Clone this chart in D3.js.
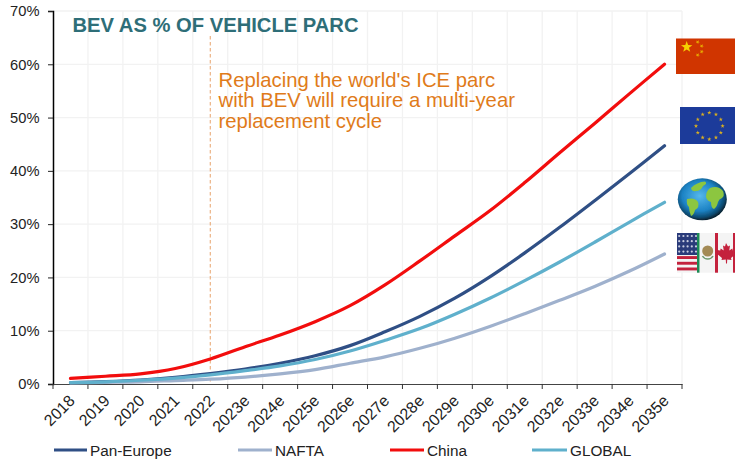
<!DOCTYPE html>
<html><head><meta charset="utf-8">
<script src="https://cdn.jsdelivr.net/npm/d3@7"></script>
<style>html,body{margin:0;padding:0;background:#fff}svg{display:block}text{font-family:"Liberation Sans",Arial,sans-serif}</style>
</head><body><div id="c"></div>
<script>
const years=["2018","2019","2020","2021","2022","2023e","2024e","2025e","2026e","2027e","2028e","2029e","2030e","2031e","2032e","2033e","2034e","2035e"];
const panEurope=[0.25,0.45,0.75,1.25,1.95,2.8,3.9,5.3,7.2,9.8,12.7,16.1,20.1,24.6,29.4,34.4,39.5,44.7];
const nafta=[0.2,0.3,0.4,0.65,0.9,1.3,1.9,2.7,3.9,5.1,6.7,8.6,10.8,13.2,15.7,18.3,21.2,24.4];
const china=[1.05,1.45,1.9,2.9,4.7,7.0,9.2,11.7,14.7,18.6,23.1,27.8,32.5,37.8,43.4,48.9,54.5,60.0];
const globalBev=[0.25,0.4,0.7,1.1,1.7,2.5,3.4,4.6,6.2,8.2,10.4,13.1,16.1,19.4,22.9,26.6,30.4,34.1];
const yTicks=[0,10,20,30,40,50,60,70];
const legendNames=["Pan-Europe","NAFTA","China","GLOBAL"];
const titleText="BEV AS % OF VEHICLE PARC";
const noteLines=["Replacing the world's ICE parc","with BEV will require a multi-year","replacement cycle"];
const markerYear="2022";

const W=735,H=459;
const svg=d3.select("#c").append("svg").attr("width",W).attr("height",H);
const x=d3.scaleBand().domain(years).range([53,682]);
const y=d3.scaleLinear().domain([0,70]).range([384,11]);
const cx=d=>x(d)+x.bandwidth()/2;
const tickXs=years.map(d=>x(d)).concat([682]);

// gridlines
svg.append("g").selectAll("line").data(yTicks.slice(1)).join("line")
 .attr("x1",53).attr("x2",682).attr("y1",d=>y(d)).attr("y2",d=>y(d)).attr("stroke","#f2f2f2").attr("stroke-width",1.3);
svg.append("g").selectAll("line").data(tickXs.slice(1)).join("line")
 .attr("x1",d=>d).attr("x2",d=>d).attr("y1",11).attr("y2",384).attr("stroke","#f2f2f2").attr("stroke-width",1.3);

// marker
svg.append("line").attr("x1",cx(markerYear)).attr("x2",cx(markerYear)).attr("y1",36).attr("y2",384)
 .attr("stroke","#e8a36b").attr("stroke-width",1).attr("stroke-dasharray","3.5,2.5");

// axes
const yAxis=d3.axisLeft(y).tickValues(yTicks).tickFormat(d=>d+"%").tickSize(5).tickPadding(8.5);
const gy=svg.append("g").attr("transform","translate(53,0)").call(yAxis);
gy.select(".domain").attr("stroke","#000").attr("stroke-width",1.5);
gy.selectAll(".tick line").attr("stroke","#222");
gy.selectAll("text").attr("font-size",14.7).attr("fill","#222");
const gx=svg.append("g").attr("transform","translate(0,384)").call(d3.axisBottom(x).tickValues([]).tickSize(0));
gx.select(".domain").attr("stroke","#444").attr("stroke-width",1.2);
svg.append("g").selectAll("line").data(tickXs).join("line")
 .attr("x1",d=>d).attr("x2",d=>d).attr("y1",384).attr("y2",389).attr("stroke","#333");
svg.append("g").selectAll("text").data(years).join("text")
 .attr("transform",d=>`translate(${cx(d)-1.5},${395}) rotate(-45)`)
 .attr("text-anchor","end").attr("dy","0.6em").attr("font-size",16).attr("fill","#222").text(d=>d);

// lines
const line=d3.line().x((d,i)=>cx(years[i])).y(d=>y(d)).curve(d3.curveCatmullRom.alpha(0.5));
const series=[
 {n:"Pan-Europe",v:panEurope,c:"#2f4f85"},
 {n:"NAFTA",v:nafta,c:"#9fb1cd"},
 {n:"China",v:china,c:"#f20d0d"},
 {n:"GLOBAL",v:globalBev,c:"#5fb0cc"}];
svg.append("g").selectAll("path").data(series).join("path")
 .attr("d",d=>line(d.v)).attr("fill","none").attr("stroke",d=>d.c).attr("stroke-width",3.2).attr("stroke-linecap","round");

// title, note
svg.append("text").attr("x",72.5).attr("y",31.5).attr("font-size",20.2).attr("font-weight","bold").attr("fill","#2e6e78").text(titleText);
svg.append("text").attr("font-size",20.3).attr("fill","#e07b1a").selectAll("tspan").data(noteLines).join("tspan")
 .attr("x",218.5).attr("y",(d,i)=>87+i*20.3).text(d=>d);

// legend
const legX={"Pan-Europe":[54,87],"NAFTA":[238,272],"China":[390,424],"GLOBAL":[532,567]};
const colorOf=Object.fromEntries(series.map(s=>[s.n,s.c]));
const lg=svg.append("g").selectAll("g").data(legendNames).join("g");
lg.append("line").attr("x1",d=>legX[d][0]).attr("x2",d=>legX[d][1]).attr("y1",450).attr("y2",450)
 .attr("stroke",d=>colorOf[d]).attr("stroke-width",3);
lg.append("text").attr("x",d=>legX[d][1]+3).attr("y",455.5).attr("font-size",15.3).attr("fill","#222").text(d=>d);

// flags
const defs=svg.append("defs");
defs.append("filter").attr("id","soft").append("feGaussianBlur").attr("stdDeviation",0.55);
const rg=defs.append("radialGradient").attr("id","sea").attr("cx","45%").attr("cy","42%").attr("r","58%");
rg.append("stop").attr("offset","0%").attr("stop-color","#55b8ec");
rg.append("stop").attr("offset","62%").attr("stop-color","#1c82c4");
rg.append("stop").attr("offset","88%").attr("stop-color","#0c4a70");
rg.append("stop").attr("offset","100%").attr("stop-color","#06202f");
const star=(cx,cy,r,rot)=>{const p=[];for(let i=0;i<10;i++){const a=-Math.PI/2+rot+i*Math.PI/5,q=i%2?r*0.4:r;p.push([cx+q*Math.cos(a),cy+q*Math.sin(a)].join(","));}return p.join(" ");};
const flags=svg.append("g").attr("filter","url(#soft)");
// China
const cn=flags.append("g");
cn.append("rect").attr("x",676).attr("y",38.5).attr("width",60).attr("height",35.5).attr("fill","#d03400");
cn.append("polygon").attr("points",star(686.7,47,6,0)).attr("fill","#f5d000");
[[697.7,42],[701.7,46],[701.7,51.7],[697.7,55]].forEach(p=>cn.append("polygon").attr("points",star(p[0],p[1],2.2,0.4)).attr("fill","#e8b000"));
// EU
const eu=flags.append("g");
eu.append("rect").attr("x",680).attr("y",107).attr("width",56).attr("height",37).attr("fill","#1f3a9a");
d3.range(12).forEach(i=>{const a=i*Math.PI/6;eu.append("polygon").attr("points",star(709.3+13.3*Math.sin(a),126-13.3*Math.cos(a),2.2,0)).attr("fill","#d8b020");});
// Globe
const gb=flags.append("g");
gb.append("ellipse").attr("cx",702.3).attr("cy",199.3).attr("rx",24.5).attr("ry",21).attr("fill","url(#sea)");
const land="#8cc63f";
["M691,188 q6,-6 14,-6.5 q3,2 -2,4.5 q-2,5 -7,5 q-4,1 -5,-3z",
 "M687,199 q8,-2 11,3 q2,5 -3,8 q-1,5 -4,6 q-2,-5 -2,-9 q-3,-3 -2,-8z",
 "M710,188 q8,-3 13,3 q2,5 -1,7 q-3,1 -4,4 q-1,5 -4,7 q-3,-1 -3,-7 q-4,-1 -5,-5 q0,-6 4,-9z"]
 .forEach(d=>gb.append("path").attr("d",d).attr("fill",land));
// NAFTA
const na=flags.append("g");
na.append("rect").attr("x",677).attr("y",233).attr("width",59).attr("height",39.7).attr("fill","#f4f4f4");
d3.range(7).forEach(i=>{na.append("rect").attr("x",677).attr("y",233+i*5.7+0.3).attr("width",21).attr("height",2.9).attr("fill","#c4203c");});
na.append("rect").attr("x",677).attr("y",233).attr("width",21).attr("height",22).attr("fill","#2a3a7a");
d3.range(4).forEach(r=>d3.range(5).forEach(c=>na.append("circle").attr("cx",679.2+c*4.2).attr("cy",236+r*5.2).attr("r",1.1).attr("fill","#c8cde0")));
na.append("rect").attr("x",697).attr("y",233).attr("width",2.5).attr("height",39.7).attr("fill","#1f8a55");
na.append("circle").attr("cx",707.7).attr("cy",251).attr("r",5.5).attr("fill","#a38a55");
na.append("path").attr("d","M702.5,256 a6,6 0 0 0 10.5,0").attr("fill","none").attr("stroke","#6f9a6f").attr("stroke-width",1.5);
na.append("rect").attr("x",715).attr("y",233).attr("width",3).attr("height",39.7).attr("fill","#c4203c");
na.append("rect").attr("x",733).attr("y",233).attr("width",3).attr("height",39.7).attr("fill","#c4203c");
na.append("path").attr("d","M726,243 l2,3.5 2,-1 -0.7,5 3,-2 0.5,2 3,-0.5 -1,3 1,1 -4.8,4 0.5,2 -4.3,-0.6 -0.2,4 -1,0 -0.2,-4 -4.3,0.6 0.5,-2 -4.8,-4 1,-1 -1,-3 3,0.5 0.5,-2 3,2 -0.7,-5 2,1z").attr("fill","#c4203c");
</script></body></html>
